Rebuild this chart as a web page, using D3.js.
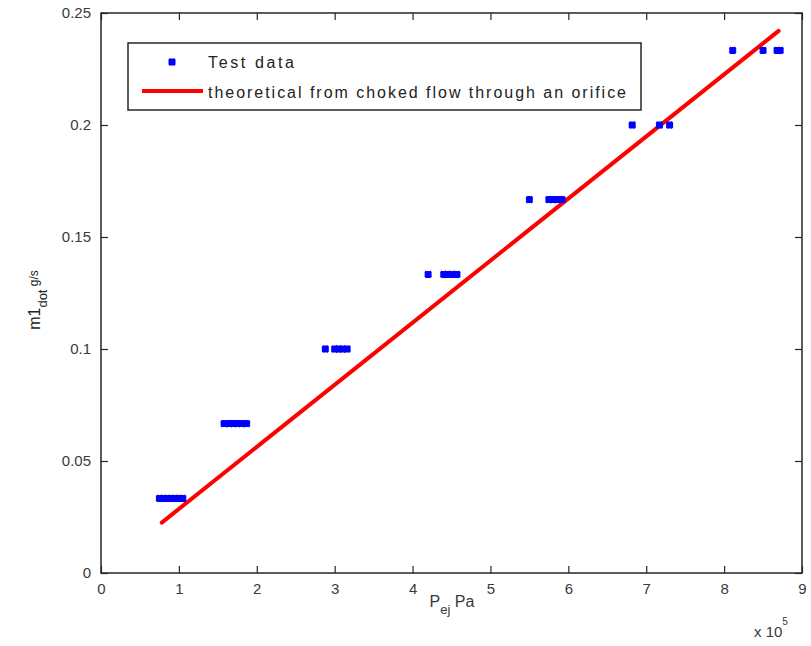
<!DOCTYPE html>
<html>
<head>
<meta charset="utf-8">
<script src="https://cdn.jsdelivr.net/npm/d3@7"></script>
<style>
  body { margin: 0; background: #fff; }
  text { font-family: "Liberation Sans", Arial, sans-serif; }
</style>
</head>
<body>
<svg width="811" height="646"></svg>
<script>
// test data, pressure in 1e5 Pa, flow in g/s
var testP = [0.75, 0.8, 0.85, 0.9, 0.95, 1.0, 1.05,
             1.58, 1.65, 1.7, 1.75, 1.8, 1.87,
             2.88, 3.0, 3.05, 3.1, 3.16,
             4.2, 4.4, 4.45, 4.5, 4.57,
             5.5, 5.75, 5.8, 5.86, 5.92,
             6.82, 7.17, 7.3,
             8.11, 8.5, 8.68, 8.72];
var testM = [0.0333, 0.0333, 0.0333, 0.0333, 0.0333, 0.0333, 0.0333,
             0.0667, 0.0667, 0.0667, 0.0667, 0.0667, 0.0667,
             0.1, 0.1, 0.1, 0.1, 0.1,
             0.1333, 0.1333, 0.1333, 0.1333, 0.1333,
             0.1667, 0.1667, 0.1667, 0.1667, 0.1667,
             0.2, 0.2, 0.2,
             0.2333, 0.2333, 0.2333, 0.2333];
// theoretical line (choked flow), end points
var theoP = [0.78, 8.7];
var theoM = [0.0225, 0.242];
var xTicks = [0, 1, 2, 3, 4, 5, 6, 7, 8, 9];
var yTicks = [0, 0.05, 0.1, 0.15, 0.2, 0.25];
var legendLabels = ["Test data", "theoretical from choked flow through an orifice"];

var svg = d3.select("svg"),
    margin = { top: 13, right: 9, bottom: 73, left: 101 },
    width = +svg.attr("width") - margin.left - margin.right,
    height = +svg.attr("height") - margin.top - margin.bottom;

var x = d3.scaleLinear().domain([0, 9]).range([0, width]);
var y = d3.scaleLinear().domain([0, 0.25]).range([height, 0]);

var g = svg.append("g")
  .attr("transform", "translate(" + margin.left + "," + margin.top + ")");

// axes, MATLAB-ish box with inward ticks
function styleAxis(sel) {
  sel.select(".domain").remove();
  sel.selectAll(".tick line").attr("stroke", "#262626").attr("stroke-width", 1.2);
  sel.selectAll(".tick text").attr("fill", "#3a3a3a").style("font-size", "15px");
}
g.append("g")
  .attr("transform", "translate(0," + height + ")")
  .call(d3.axisBottom(x).tickValues(xTicks).tickFormat(d3.format("d")).tickSizeInner(-7).tickPadding(10))
  .call(styleAxis);
g.append("g")
  .call(d3.axisTop(x).tickValues(xTicks).tickFormat("").tickSizeInner(-7))
  .call(styleAxis);
g.append("g")
  .call(d3.axisLeft(y).tickValues(yTicks).tickFormat(function(d) { return d === 0 ? "0" : d3.format("")(d); }).tickSizeInner(-7).tickPadding(10))
  .call(styleAxis);
g.append("g")
  .attr("transform", "translate(" + width + ",0)")
  .call(d3.axisRight(y).tickValues(yTicks).tickFormat("").tickSizeInner(-7))
  .call(styleAxis);

g.append("rect")
  .attr("width", width)
  .attr("height", height)
  .attr("fill", "none")
  .attr("stroke", "#262626")
  .attr("stroke-width", 1.5);

// theoretical line
var line = d3.line()
  .x(function(d) { return x(d[0]); })
  .y(function(d) { return y(d[1]); });
g.append("path")
  .datum(d3.zip(theoP, theoM))
  .attr("d", line)
  .attr("fill", "none")
  .attr("stroke", "#ff0000")
  .attr("stroke-width", 4)
  .attr("stroke-linecap", "round");

// asterisk marker
var star = "M-3,-3L3,3M-3,3L3,-3M0,-3.5L0,3.5M-3.5,0L3.5,0";
g.selectAll(".pt")
  .data(d3.zip(testP, testM))
  .enter().append("path")
    .attr("class", "pt")
    .attr("transform", function(d) { return "translate(" + x(d[0]) + "," + y(d[1]) + ")"; })
    .attr("d", star)
    .attr("stroke", "#0000ff")
    .attr("stroke-width", 2.5);

// legend
var leg = svg.append("g").attr("transform", "translate(128,43)");
leg.append("rect")
  .attr("width", 513)
  .attr("height", 67)
  .attr("fill", "#fff")
  .attr("stroke", "#262626")
  .attr("stroke-width", 1.5);
leg.append("path")
  .attr("transform", "translate(44,19)")
  .attr("d", star)
  .attr("stroke", "#0000ff")
  .attr("stroke-width", 2.5);
leg.append("line")
  .attr("x1", 14).attr("x2", 75)
  .attr("y1", 48).attr("y2", 48)
  .attr("stroke", "#ff0000")
  .attr("stroke-width", 4);
leg.selectAll(".lt")
  .data(legendLabels)
  .enter().append("text")
    .attr("class", "lt")
    .attr("x", 80)
    .attr("y", function(d, i) { return 25 + i * 30; })
    .attr("fill", "#222")
    .style("font-size", "16px")
    .attr("textLength", function(d, i) { return i === 0 ? 86 : 418; })
    .text(function(d) { return d; });

// axis labels
var xl = svg.append("text")
  .attr("x", 452)
  .attr("y", 607)
  .attr("text-anchor", "middle")
  .attr("fill", "#3a3a3a")
  .style("font-size", "16px");
xl.append("tspan").text("P");
xl.append("tspan").attr("dy", 7).style("font-size", "13px").text("ej");
xl.append("tspan").attr("dy", -7).text(" Pa");

var ex = svg.append("text")
  .attr("x", 754)
  .attr("y", 637)
  .attr("fill", "#3a3a3a")
  .style("font-size", "15px");
ex.append("tspan").text("x 10");
ex.append("tspan").attr("dy", -12).style("font-size", "10px").text("5");

var yl = svg.append("text")
  .attr("transform", "translate(40,300)rotate(-90)")
  .attr("text-anchor", "middle")
  .attr("fill", "#222")
  .style("font-size", "16px");
yl.append("tspan").text("m1");
yl.append("tspan").attr("dy", 7).style("font-size", "13px").text("dot");
yl.append("tspan").attr("dy", -9).style("font-size", "12px").text(" g/s");
</script>
</body>
</html>
